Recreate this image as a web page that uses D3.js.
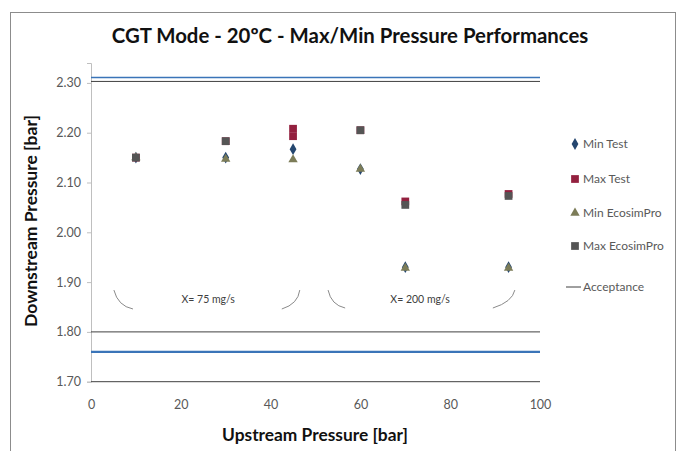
<!DOCTYPE html>
<html><head><meta charset="utf-8">
<script src="https://cdn.jsdelivr.net/npm/d3@7/dist/d3.min.js"></script>
<style>body{margin:0;background:#fff}svg{display:block}text{font-family:Lato,"Open Sans",sans-serif}</style>
</head><body><svg id="c" width="684" height="451"></svg>
<script>
const title = "CGT Mode - 20ºC - Max/Min Pressure Performances";
const xTitle = "Upstream Pressure [bar]";
const yTitle = "Downstream Pressure [bar]";
const xTicks = [0, 20, 40, 60, 80, 100];
const yTicks = [1.70, 1.80, 1.90, 2.00, 2.10, 2.20, 2.30];

const minTestX = [10, 30, 45, 60, 70, 93];
const minTestY = [2.150, 2.150, 2.167, 2.127, 1.930, 1.930];
const maxTestX = [10, 30, 45, 45, 60, 70, 93];
const maxTestY = [2.150, 2.183, 2.208, 2.193, 2.205, 2.062, 2.077];
const minEcoX = [10, 30, 45, 60, 70, 93];
const minEcoY = [2.150, 2.147, 2.146, 2.127, 1.928, 1.928];
const maxEcoX = [10, 30, 60, 70, 93];
const maxEcoY = [2.150, 2.183, 2.205, 2.055, 2.073];

const acceptanceLevels = [1.70, 1.80, 2.303];
const nominalLevels = [1.76, 2.311];

const seriesNames = ["Min Test", "Max Test", "Min EcosimPro", "Max EcosimPro", "Acceptance"];
const annotLabels = ["X= 75 mg/s", "X= 200 mg/s"];
const annotLabelX = [26.1, 73.3];
const annotLabelY = [1.866, 1.866];
// bracket arcs in data units: [x0,y0,cx,cy,x1,y1]
const arcs = [
  [5.1, 1.884, 6.0, 1.852, 9.35, 1.846],
  [42.5, 1.846, 46.1, 1.856, 46.5, 1.884],
  [52.8, 1.884, 53.5, 1.854, 56.6, 1.848],
  [89.5, 1.848, 93.8, 1.860, 94.4, 1.884]
];

const svg = d3.select("#c");
const x = d3.scaleLinear().domain([0, 100]).range([91, 540]);
const y = d3.scaleLinear().domain([1.70, 2.34]).range([381.7, 63]);

// outer border
svg.append("rect").attr("x", 10.5).attr("y", 12.5).attr("width", 665).attr("height", 445)
  .attr("fill", "#fff").attr("stroke", "#8c8c8c").attr("stroke-width", 1);

// title
const t = svg.append("text").attr("x", 350).attr("y", 43).attr("text-anchor", "middle")
  .attr("font-weight", "bold").attr("font-size", 19).attr("fill", "#111").text(title);
const fit = (sel, w) => { const l = sel.node().getComputedTextLength(); sel.attr("font-size", +sel.attr("font-size") * w / l); };
fit(t, 477);

// y axis
const yAxis = d3.axisLeft(y).tickValues(yTicks).tickFormat(d3.format(".2f")).tickSize(4).tickPadding(6);
const ya = svg.append("g").attr("transform", "translate(91,0)").call(yAxis);
ya.select(".domain").attr("stroke", "#bfbfbf");
ya.selectAll(".tick line").attr("stroke", "#bfbfbf");
ya.selectAll(".tick text").attr("fill", "#595959").attr("font-size", 12.5).attr("font-family", "Lato");

// x axis (labels only)
const xAxis = d3.axisBottom(x).tickValues(xTicks).tickSize(0).tickPadding(18);
const xa = svg.append("g").attr("transform", "translate(0,381.7)").call(xAxis);
xa.select(".domain").remove();
xa.selectAll(".tick text").attr("fill", "#595959").attr("font-size", 12.5).attr("font-family", "Lato");

// axis titles
const xt = svg.append("text").attr("x", 315).attr("y", 441).attr("text-anchor", "middle")
  .attr("font-weight", "bold").attr("font-size", 15).attr("fill", "#111").text(xTitle);
fit(xt, 186);
const yt = svg.append("text").attr("transform", "translate(37,221) rotate(-90)").attr("text-anchor", "middle")
  .attr("font-weight", "bold").attr("font-size", 15).attr("fill", "#111").text(yTitle);
fit(yt, 212);

// horizontal reference lines
svg.append("g").selectAll("line").data(nominalLevels).join("line")
  .attr("x1", x(0)).attr("x2", x(100)).attr("y1", d => y(d)).attr("y2", d => y(d))
  .attr("stroke", "#3a74b8").attr("stroke-width", (d, i) => i === 0 ? 2.2 : 1.5);
svg.append("g").selectAll("line").data(acceptanceLevels).join("line")
  .attr("x1", x(0)).attr("x2", x(100)).attr("y1", d => y(d)).attr("y2", d => y(d))
  .attr("stroke", "#404040").attr("stroke-width", 1);

// annotation arcs and labels
svg.append("g").selectAll("path").data(arcs).join("path")
  .attr("d", a => `M${x(a[0])},${y(a[1])} Q${x(a[2])},${y(a[3])} ${x(a[4])},${y(a[5])}`)
  .attr("fill", "none").attr("stroke", "#8a8a8a").attr("stroke-width", 1);
svg.append("g").selectAll("text").data(annotLabels).join("text")
  .attr("x", (d, i) => x(annotLabelX[i])).attr("y", (d, i) => y(annotLabelY[i]))
  .attr("dy", "0.35em").attr("text-anchor", "middle").attr("font-size", 10.5).attr("fill", "#404040").text(d => d);

// markers
const colors = ["#24466f", "#93203f", "#7c7c58", "#555555"];
const symDiamond = d3.symbol().type(d3.symbolDiamond).size(40);
const symSquare = d3.symbol().type(d3.symbolSquare).size(60);
const symTriangle = d3.symbol().type(d3.symbolTriangle).size(38);
const series = [
  {xs: minTestX, ys: minTestY, sym: symDiamond, c: colors[0]},
  {xs: maxTestX, ys: maxTestY, sym: symSquare, c: colors[1]},
  {xs: minEcoX, ys: minEcoY, sym: symTriangle, c: colors[2]},
  {xs: maxEcoX, ys: maxEcoY, sym: symSquare, c: colors[3]}
];
series.forEach(s => {
  svg.append("g").selectAll("path").data(s.xs).join("path")
    .attr("transform", (d, i) => `translate(${x(d)},${y(s.ys[i])})`)
    .attr("d", s.sym()).attr("fill", s.c);
});

// legend
const legY = [144, 179, 213, 246, 287];
const leg = svg.append("g");
seriesNames.forEach((n, i) => {
  if (i < 4) {
    leg.append("path").attr("transform", `translate(575,${legY[i]})`).attr("d", series[i].sym()).attr("fill", series[i].c);
  } else {
    leg.append("line").attr("x1", 566).attr("x2", 581).attr("y1", legY[i]).attr("y2", legY[i]).attr("stroke", "#404040");
  }
  leg.append("text").attr("x", 583).attr("y", legY[i]).attr("dy", "0.35em").attr("font-size", 12)
    .attr("fill", "#595959").text(n);
});
</script></body></html>
